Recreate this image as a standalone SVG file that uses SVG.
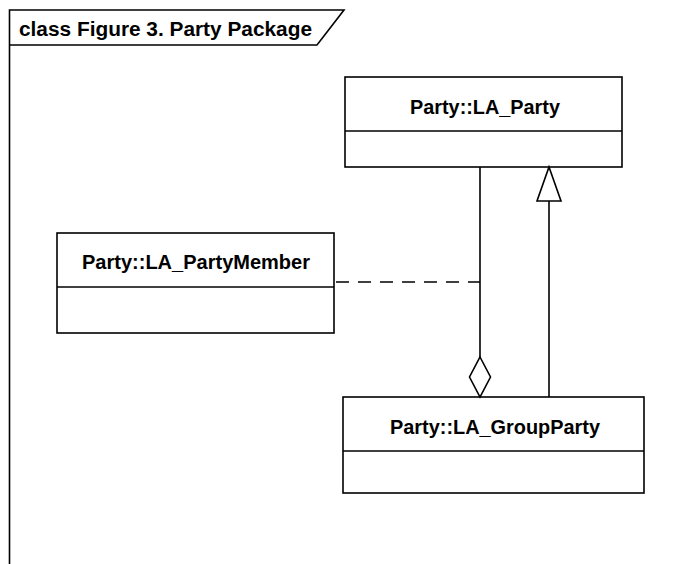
<svg xmlns="http://www.w3.org/2000/svg" width="683" height="564" viewBox="0 0 683 564">
<style>
.box{fill:#fff;stroke:#000;stroke-width:1.6}
.ln{fill:none;stroke:#000;stroke-width:1.6}
.t{font-family:"Liberation Sans",Arial,sans-serif;font-weight:bold;font-size:19.5px;fill:#000}
</style>
<rect width="683" height="564" fill="#fff"/>
<g id="frame">
<path class="ln" d="M9.5,564 V10 H344 L317,45 H9.5"/>
<text class="t" x="19" y="35.5" textLength="293" lengthAdjust="spacingAndGlyphs">class Figure 3. Party Package</text>
</g>
<g id="LA_Party">
<rect class="box" x="345" y="77" width="277" height="90"/>
<line class="ln" x1="345" y1="131" x2="622" y2="131"/>
<text class="t" x="485" y="114" text-anchor="middle" textLength="150" lengthAdjust="spacingAndGlyphs">Party::LA_Party</text>
</g>
<g id="LA_PartyMember">
<rect class="box" x="57" y="233" width="277" height="100"/>
<line class="ln" x1="57" y1="287" x2="334" y2="287"/>
<text class="t" x="196" y="269" text-anchor="middle" textLength="228" lengthAdjust="spacingAndGlyphs">Party::LA_PartyMember</text>
</g>
<g id="LA_GroupParty">
<rect class="box" x="343" y="397" width="301" height="96"/>
<line class="ln" x1="343" y1="451" x2="644" y2="451"/>
<text class="t" x="495" y="434" text-anchor="middle" textLength="210" lengthAdjust="spacingAndGlyphs">Party::LA_GroupParty</text>
</g>
<g id="connectors">
<path class="ln" d="M480,167 V357"/>
<path class="ln" d="M480,357 L490.5,377 L480,397 L469.5,377 Z" fill="#fff"/>
<path class="ln" d="M549,397 V201"/>
<path class="ln" d="M549,167 L561,201 H537 Z" fill="#fff"/>
<path class="ln" d="M336,282 H480" stroke-dasharray="13,9"/>
</g>
</svg>
